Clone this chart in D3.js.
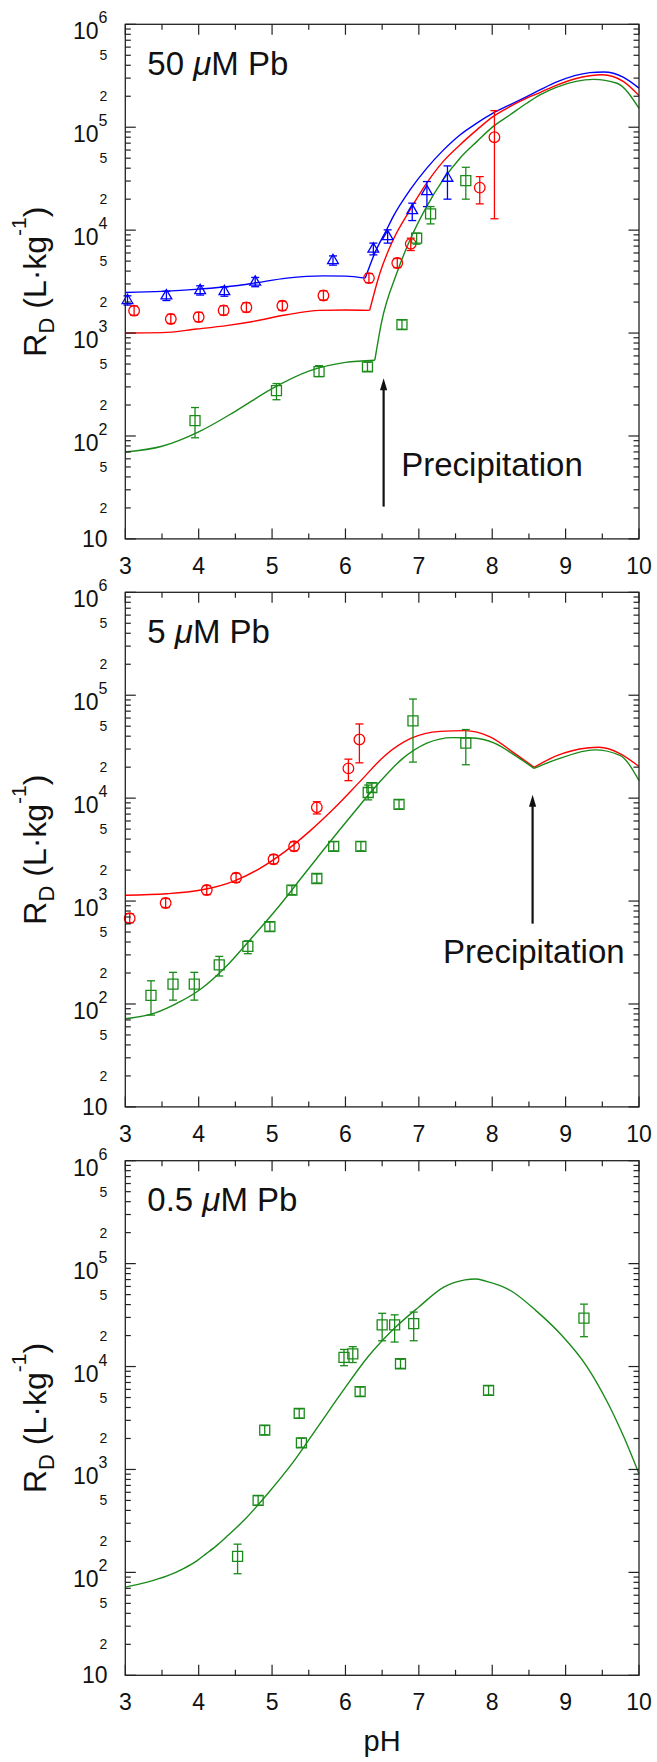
<!DOCTYPE html>
<html lang="en">
<head>
<meta charset="UTF-8">
<title>RD vs pH</title>
<script src="https://cdn.jsdelivr.net/npm/d3@7"></script>
<style>
  body { margin: 0; background: #fff; }
  text { font-family: "Liberation Sans", Arial, sans-serif; fill: #111; }
  .frame { fill: none; stroke: #222; stroke-width: 1.3; }
  .tick { stroke: #222; stroke-width: 1.2; }
  .curve { fill: none; stroke-width: 1.4; }
  .mark { fill: none; stroke-width: 1.3; }
</style>
</head>
<body>
<svg id="chart" width="657" height="1762"></svg>
<script>
// ---- data (pH, R_D in L/kg) ----
const phTicks = [3, 4, 5, 6, 7, 8, 9, 10];
const concLabels = ['50', '5', '0.5'];

// panel 1 : 50 uM Pb
const p1TriPh = [3.03, 3.56, 4.02, 4.35, 4.77, 5.83, 6.38, 6.575, 6.91, 7.11, 7.39];
const p1TriRd = [2075, 2301, 2594, 2535, 3126, 5070, 6546, 8670, 15490, 23710, 31990];
const p1TriLo = [1870, 2070, 2340, 2280, 2820, 4570, 5750, 7480, 12390, 16940, 20000];
const p1TriHi = [2300, 2550, 2880, 2810, 3470, 5620, 7480, 10070, 18280, 29650, 42100];

const p1CircPh = [3.12, 3.62, 4.00, 4.34, 4.65, 5.14, 5.70, 6.32, 6.706, 6.89, 7.83, 8.03];
const p1CircRd = [1650, 1370, 1430, 1660, 1775, 1840, 2320, 3420, 4790, 7360, 25900, 80000];
const p1CircLo = [1490, 1240, 1290, 1500, 1600, 1660, 2090, 3090, 4320, 6340, 18000, 12900];
const p1CircHi = [1830, 1520, 1590, 1840, 1970, 2040, 2570, 3790, 5310, 8350, 33100, 145000];

const p1SqPh = [3.95, 5.06, 5.64, 6.30, 6.77, 6.97, 7.16, 7.64];
const p1SqRd = [141, 276, 422, 470, 1210, 8360, 14400, 30300];
const p1SqLo = [96, 225, 378, 425, 1090, 7310, 11500, 20000];
const p1SqHi = [189, 323, 482, 520, 1340, 9350, 16940, 40800];

const p1BlueCurvePh = [3.0, 3.5, 4.0, 4.5, 4.75, 5.2, 5.7, 6.0, 6.27, 6.40, 6.56, 6.65, 6.88, 7.106, 7.33, 7.56, 7.79, 8.01, 8.24, 8.47, 8.65, 8.88, 9.33, 9.52, 9.79, 10];
const p1BlueCurveRd = [2477, 2541, 2673, 2884, 3055, 3420, 3597, 3573, 3420, 5984, 10070, 13550, 24600, 39810, 59570, 84140, 109400, 136800, 164800, 198200, 230100, 275400, 338800, 344400, 305500, 239900];
const p1RedCurvePh = [3.0, 3.5, 3.97, 4.4, 4.74, 5.2, 5.65, 6.0, 6.33, 6.47, 6.65, 6.88, 7.106, 7.33, 7.56, 7.79, 8.01, 8.24, 8.47, 8.65, 8.88, 9.33, 9.5, 9.79, 10];
const p1RedCurveRd = [1000, 1009, 1094, 1189, 1297, 1507, 1660, 1675, 1660, 3828, 8054, 15740, 28580, 46340, 67300, 94190, 126800, 158500, 191400, 216800, 257000, 316200, 323600, 277300, 202800];
const p1GreenCurvePh = [3.0, 3.5, 4.0, 4.5, 5.0, 5.5, 6.0, 6.4, 6.49, 6.70, 6.88, 7.106, 7.33, 7.56, 7.79, 8.01, 8.24, 8.47, 8.65, 8.88, 9.38, 9.7, 10];
const p1GreenCurveRd = [69.8, 79.4, 109.6, 173.8, 288.4, 426.6, 518.8, 544.5, 1259, 3828, 8054, 16940, 30760, 50000, 72440, 101400, 131500, 171000, 206100, 245500, 291700, 267300, 152800];

// panel 2 : 5 uM Pb
const p2CircPh = [3.06, 3.55, 4.11, 4.51, 5.02, 5.30, 5.61, 6.04, 6.19];
const p2CircRd = [682, 957, 1279, 1683, 2547, 3405, 8140, 19450, 37150];
const p2CircLo = [615, 865, 1155, 1520, 2300, 3075, 7020, 14790, 22030];
const p2CircHi = [755, 1060, 1415, 1860, 2820, 3770, 9230, 23930, 52600];

const p2SqPh = [3.35, 3.65, 3.94, 4.28, 4.67, 4.97, 5.27, 5.61, 5.84, 6.21, 6.31, 6.36, 6.73, 6.92, 7.64];
const p2SqRd = [121, 156, 156, 240, 363, 564, 1279, 1656, 3405, 3405, 11350, 12640, 8700, 56230, 34200];
const p2SqLo = [78, 109, 109, 187, 308, 510, 1155, 1495, 3075, 3075, 9620, 11400, 7860, 22400, 21100];
const p2SqHi = [168, 203, 203, 290, 411, 625, 1415, 1835, 3770, 3770, 13400, 14000, 9630, 91800, 46400];

const p2RedCurvePh = [3.0, 3.57, 4.03, 4.49, 4.83, 5.17, 5.51, 5.86, 6.2, 6.54, 6.89, 7.29, 7.63, 7.97, 8.31, 8.57, 8.89, 9.29, 9.46, 9.74, 10];
const p2RedCurveRd = [1140, 1178, 1279, 1574, 2070, 3006, 4753, 8147, 14550, 26000, 38020, 44570, 45290, 39360, 27100, 19950, 26000, 30690, 31190, 27100, 20280];
const p2GreenCurvePh = [3.0, 3.4, 3.74, 4.03, 4.37, 4.71, 5.06, 5.40, 5.74, 6.09, 6.43, 6.77, 7.11, 7.46, 7.74, 8.03, 8.31, 8.57, 8.89, 9.4, 9.74, 10];
const p2GreenCurveRd = [71.9, 81.5, 104.7, 140, 230, 428.5, 831.8, 1683, 3404, 6902, 13400, 23930, 34200, 38730, 38370, 34200, 26000, 19450, 23930, 29440, 26000, 14790];

// panel 3 : 0.5 uM Pb
const p3SqPh = [4.53, 4.81, 4.90, 5.37, 5.40, 5.98, 6.10, 6.20, 6.50, 6.67, 6.75, 6.93, 7.95, 9.25];
const p3SqRd = [143, 500, 2410, 3500, 1815, 12270, 13300, 5710, 25430, 25430, 10640, 26120, 5860, 29580];
const p3SqLo = [97, 450, 2175, 3160, 1640, 10190, 10940, 5155, 17800, 17300, 9610, 17800, 5290, 19500];
const p3SqHi = [188, 555, 2670, 3875, 2010, 14660, 15600, 6320, 32900, 31800, 11780, 33800, 6490, 40400];

const p3GreenCurvePh = [3.0, 3.3, 3.57, 3.8, 3.97, 4.1, 4.26, 4.4, 4.6, 4.94, 5.29, 5.63, 5.97, 6.31, 6.66, 7.0, 7.34, 7.63, 7.77, 7.91, 8.26, 8.6, 8.94, 9.29, 9.57, 9.8, 10];
const p3GreenCurveRd = [71.9, 80.4, 92.3, 109.6, 128.8, 151.4, 186.2, 229.1, 311.9, 580.8, 1183, 2636, 5861, 12500, 23280, 37930, 59160, 69500, 70790, 67610, 54200, 34750, 20370, 10000, 4498, 2018, 907.8];

// precipitation arrows (pH, tail R_D, tip R_D) and label anchor (pH, R_D)
const arrowPh = [6.52, 8.55];
const arrowTail = [20.6, 603];
const arrowTip = [363, 10770];
const precipPh = [6.76, 7.33];
const precipRd = [41, 252];

// ---- layout ----
const plotL = 125.3, plotR = 639, plotH = 514.6;
const panelTops = [24.3, 592.3, 1160.7];
const colors = { blue: '#0000ff', red: '#ff0000', green: '#1a8a1a' };

const svg = d3.select('#chart');
const x = d3.scaleLinear().domain([3, 10]).range([plotL, plotR]);

const panels = [
  {
    curves: [
      { ph: p1BlueCurvePh, rd: p1BlueCurveRd, kink: 6.27, color: colors.blue },
      { ph: p1RedCurvePh, rd: p1RedCurveRd, kink: 6.33, color: colors.red },
      { ph: p1GreenCurvePh, rd: p1GreenCurveRd, kink: 6.4, color: colors.green }
    ],
    points: [
      { ph: p1TriPh, rd: p1TriRd, lo: p1TriLo, hi: p1TriHi, shape: d3.symbolTriangle, size: 50, color: colors.blue },
      { ph: p1CircPh, rd: p1CircRd, lo: p1CircLo, hi: p1CircHi, shape: d3.symbolCircle, size: 88, color: colors.red },
      { ph: p1SqPh, rd: p1SqRd, lo: p1SqLo, hi: p1SqHi, shape: d3.symbolSquare, size: 100, color: colors.green }
    ],
    arrow: 0
  },
  {
    curves: [
      { ph: p2RedCurvePh, rd: p2RedCurveRd, kink: 8.57, color: colors.red },
      { ph: p2GreenCurvePh, rd: p2GreenCurveRd, kink: 8.57, color: colors.green }
    ],
    points: [
      { ph: p2CircPh, rd: p2CircRd, lo: p2CircLo, hi: p2CircHi, shape: d3.symbolCircle, size: 88, color: colors.red },
      { ph: p2SqPh, rd: p2SqRd, lo: p2SqLo, hi: p2SqHi, shape: d3.symbolSquare, size: 100, color: colors.green }
    ],
    arrow: 1
  },
  {
    curves: [
      { ph: p3GreenCurvePh, rd: p3GreenCurveRd, kink: null, color: colors.green }
    ],
    points: [
      { ph: p3SqPh, rd: p3SqRd, lo: p3SqLo, hi: p3SqHi, shape: d3.symbolSquare, size: 100, color: colors.green }
    ],
    arrow: null
  }
];

panels.forEach((p, pi) => {
  const top = panelTops[pi];
  const bottom = top + plotH;
  const y = d3.scaleLog().domain([10, 1e6]).range([bottom, top]);
  const g = svg.append('g');

  // curves, split at the precipitation kink so the corner stays sharp
  const line = d3.line()
    .x(d => x(d[0]))
    .y(d => y(d[1]))
    .curve(d3.curveMonotoneX);
  p.curves.forEach(c => {
    const pts = c.ph.map((ph, i) => [ph, c.rd[i]]);
    const segs = c.kink == null ? [pts] :
      [pts.filter(d => d[0] <= c.kink), pts.filter(d => d[0] >= c.kink)];
    segs.forEach(s => {
      g.append('path')
        .attr('class', 'curve')
        .attr('stroke', c.color)
        .attr('d', line(s));
    });
  });

  // data points with error bars
  p.points.forEach(s => {
    const sg = g.append('g').attr('stroke', s.color).attr('class', 'mark');
    const sym = d3.symbol().type(s.shape).size(s.size);
    s.ph.forEach((ph, i) => {
      const cx = x(ph);
      sg.append('line')
        .attr('x1', cx).attr('x2', cx)
        .attr('y1', y(s.lo[i])).attr('y2', y(s.hi[i]));
      [s.lo[i], s.hi[i]].forEach(v => {
        sg.append('line')
          .attr('x1', cx - 4).attr('x2', cx + 4)
          .attr('y1', y(v)).attr('y2', y(v));
      });
      sg.append('path')
        .attr('transform', `translate(${cx},${y(s.rd[i])})`)
        .attr('d', sym());
    });
  });

  // frame
  g.append('rect')
    .attr('class', 'frame')
    .attr('x', plotL).attr('y', top)
    .attr('width', plotR - plotL).attr('height', plotH);

  // y ticks + labels
  y.ticks().forEach(v => {
    const lg = Math.log10(v);
    const major = Math.abs(lg - Math.round(lg)) < 1e-9;
    const len = major ? 10.5 : 5.5;
    const ty = y(v);
    g.append('line').attr('class', 'tick')
      .attr('x1', plotL).attr('x2', plotL + len).attr('y1', ty).attr('y2', ty);
    g.append('line').attr('class', 'tick')
      .attr('x1', plotR).attr('x2', plotR - len).attr('y1', ty).attr('y2', ty);
    if (major) {
      const e = Math.round(lg);
      if (e === 1) {
        g.append('text')
          .attr('x', 107.5).attr('y', ty + 8)
          .attr('text-anchor', 'end')
          .attr('font-size', 23)
          .text('10');
      } else {
        const t = g.append('text')
          .attr('x', 107.5).attr('y', ty + 15)
          .attr('text-anchor', 'end')
          .attr('font-size', 23);
        t.append('tspan').text('10');
        t.append('tspan').attr('dy', -16).attr('font-size', 16).text(e);
      }
    } else {
      const lead = Math.round(v / Math.pow(10, Math.floor(lg)));
      if (lead === 2 || lead === 5) {
        g.append('text')
          .attr('x', 103.3).attr('y', ty + 5)
          .attr('text-anchor', 'middle')
          .attr('font-size', 14)
          .attr('fill', '#222')
          .text(lead);
      }
    }
  });

  // x ticks + labels
  phTicks.forEach(t => {
    const tx = x(t);
    g.append('line').attr('class', 'tick')
      .attr('x1', tx).attr('x2', tx).attr('y1', bottom).attr('y2', bottom - 10.5);
    g.append('line').attr('class', 'tick')
      .attr('x1', tx).attr('x2', tx).attr('y1', top).attr('y2', top + 10.5);
    g.append('text')
      .attr('x', tx).attr('y', bottom + 35)
      .attr('text-anchor', 'middle')
      .attr('font-size', 23)
      .text(t);
  });
  d3.range(3.5, 10, 1).forEach(t => {
    const tx = x(t);
    g.append('line').attr('class', 'tick')
      .attr('x1', tx).attr('x2', tx).attr('y1', bottom).attr('y2', bottom - 5.5);
    g.append('line').attr('class', 'tick')
      .attr('x1', tx).attr('x2', tx).attr('y1', top).attr('y2', top + 5.5);
  });

  // panel title
  const title = g.append('text')
    .attr('x', 147.3).attr('y', top + 50.5)
    .attr('font-size', 33);
  title.append('tspan').text(concLabels[pi] + ' ');
  title.append('tspan').attr('font-style', 'italic').text('\u03BC');
  title.append('tspan').text('M Pb');

  // y-axis title
  const yt = g.append('text')
    .attr('transform', `translate(46,${top + plotH / 2}) rotate(-90)`)
    .attr('text-anchor', 'middle')
    .attr('font-size', 32);
  yt.append('tspan').text('R');
  yt.append('tspan').attr('dy', 8).attr('font-size', 22).text('D');
  yt.append('tspan').attr('dy', -8).text(' (L\u00B7kg');
  yt.append('tspan').attr('dy', -20).attr('font-size', 21).text('-1');
  yt.append('tspan').attr('dy', 20).text(')');

  // precipitation arrow
  if (p.arrow != null) {
    const k = p.arrow;
    const ax = x(arrowPh[k]);
    const y0 = y(arrowTail[k]);
    const y1 = y(arrowTip[k]);
    g.append('line')
      .attr('x1', ax).attr('x2', ax)
      .attr('y1', y0).attr('y2', y1 + 8)
      .attr('stroke', '#111').attr('stroke-width', 2.2);
    g.append('path')
      .attr('d', `M${ax},${y1} L${ax + 3.6},${y1 + 12} L${ax - 3.6},${y1 + 12} Z`)
      .attr('fill', '#111');
    g.append('text')
      .attr('x', x(precipPh[k])).attr('y', y(precipRd[k]))
      .attr('font-size', 33)
      .text('Precipitation');
  }
});

// x-axis title
svg.append('text')
  .attr('x', (plotL + plotR) / 2).attr('y', 1751)
  .attr('text-anchor', 'middle')
  .attr('font-size', 29)
  .text('pH');
</script>
</body>
</html>
